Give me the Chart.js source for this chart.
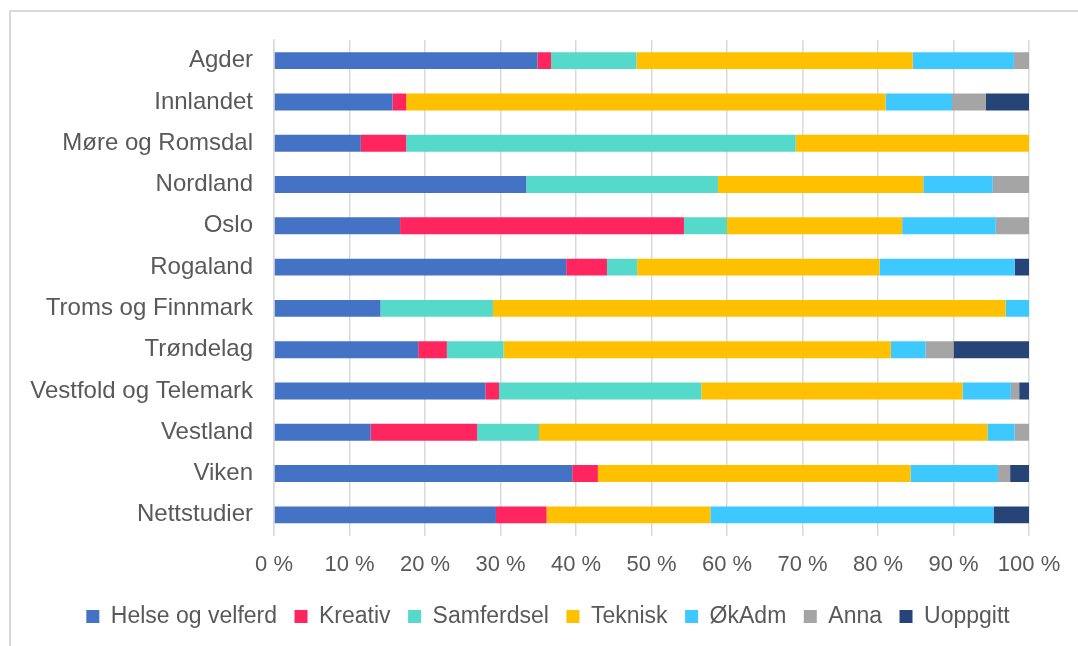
<!DOCTYPE html>
<html>
<head>
<meta charset="utf-8">
<script src="https://cdn.jsdelivr.net/npm/chart.js@4"></script>
<style>
  html, body { margin: 0; padding: 0; background: #fff; overflow: hidden; }
  #frame { position: absolute; left: 9px; top: 10px; width: 1200px; height: 800px;
           border-left: 2px solid #d9d9d9; border-top: 2px solid #d9d9d9; }
  #wrap { position: absolute; left: 0; top: 0; width: 1078px; height: 646px; }
</style>
</head>
<body>
<div id="frame"></div>
<div id="wrap"><canvas id="myChart" width="1078" height="646"></canvas></div>
<script>
// regioner (kategorier)
var regions = ['Agder', 'Innlandet', 'Møre og Romsdal', 'Nordland', 'Oslo', 'Rogaland',
    'Troms og Finnmark', 'Trøndelag', 'Vestfold og Telemark', 'Vestland', 'Viken', 'Nettstudier'];

// andel i prosent per region
var helse      = [34.9, 15.7, 11.5, 33.4, 16.7, 38.7, 14.1, 19.1, 28.0, 12.8, 39.5, 29.4];
var kreativ    = [ 1.8,  1.8,  6.0,  0.0, 37.6,  5.4,  0.0,  3.8,  1.8, 14.1,  3.4,  6.7];
var samferdsel = [11.3,  0.0, 51.6, 25.4,  5.7,  4.0, 14.9,  7.5, 26.8,  8.2,  0.0,  0.0];
var teknisk    = [36.6, 63.5, 30.9, 27.2, 23.2, 32.1, 67.9, 51.3, 34.6, 59.4, 41.4, 21.7];
var okadm      = [13.4,  8.8,  0.0,  9.2, 12.4, 17.9,  3.1,  4.6,  6.4,  3.6, 11.6, 37.5];
var anna       = [ 2.0,  4.5,  0.0,  4.8,  4.4,  0.0,  0.0,  3.7,  1.1,  1.9,  1.6,  0.0];
var uoppgitt   = [ 0.0,  5.7,  0.0,  0.0,  0.0,  1.9,  0.0, 10.0,  1.3,  0.0,  2.5,  4.7];

var textColor = '#595959';
var gridColor = '#d9d9d9';
var fontFamily = '"Liberation Sans", Arial, Helvetica, sans-serif';

function series(label, data, color) {
    return {
        label: label,
        data: data,
        backgroundColor: color,
        borderWidth: 0,
        categoryPercentage: 1,
        barPercentage: 0.41
    };
}

var chartData = {
    labels: regions,
    datasets: [
        series('Helse og velferd', helse, '#4472C4'),
        series('Kreativ', kreativ, '#FF2660'),
        series('Samferdsel', samferdsel, '#54D9CB'),
        series('Teknisk', teknisk, '#FFC000'),
        series('ØkAdm', okadm, '#3DC8FF'),
        series('Anna', anna, '#A5A5A5'),
        series('Uoppgitt', uoppgitt, '#264478')
    ]
};

// legend is centred on the whole chart box in the original, not on the plot
var shiftLegend = {
    id: 'shiftLegend',
    afterLayout: function (chart) {
        if (chart.legend) {
            chart.legend.left = 67;
            chart.legend.right = 1029;
        }
    }
};

var ctx = document.getElementById('myChart').getContext('2d');
var myChart = new Chart(ctx, {
    type: 'bar',
    data: chartData,
    plugins: [shiftLegend],
    options: {
        indexAxis: 'y',
        responsive: false,
        animation: false,
        layout: { padding: { left: 0, right: 49, top: 40, bottom: 8 } },
        plugins: {
            tooltip: { enabled: false },
            legend: {
                position: 'bottom',
                labels: {
                    color: textColor,
                    font: { family: fontFamily, size: 23 },
                    boxWidth: 13,
                    boxHeight: 13,
                    padding: 17.5
                }
            }
        },
        scales: {
            x: {
                stacked: true,
                min: 0,
                max: 100,
                ticks: {
                    stepSize: 10,
                    color: textColor,
                    font: { family: fontFamily, size: 22 },
                    padding: 16,
                    callback: function (v) { return v + ' %'; }
                },
                grid: { color: gridColor, lineWidth: 1.5, drawTicks: false },
                border: { display: false },
                afterFit: function (scale) { scale.height = 52; }
            },
            y: {
                stacked: true,
                ticks: {
                    color: textColor,
                    font: { family: fontFamily, size: 24 },
                    padding: 21
                },
                grid: { display: false, drawTicks: false },
                border: { display: true, color: gridColor, width: 1.5 },
                afterFit: function (scale) { scale.width = 274; }
            }
        }
    }
});
</script>
</body>
</html>
